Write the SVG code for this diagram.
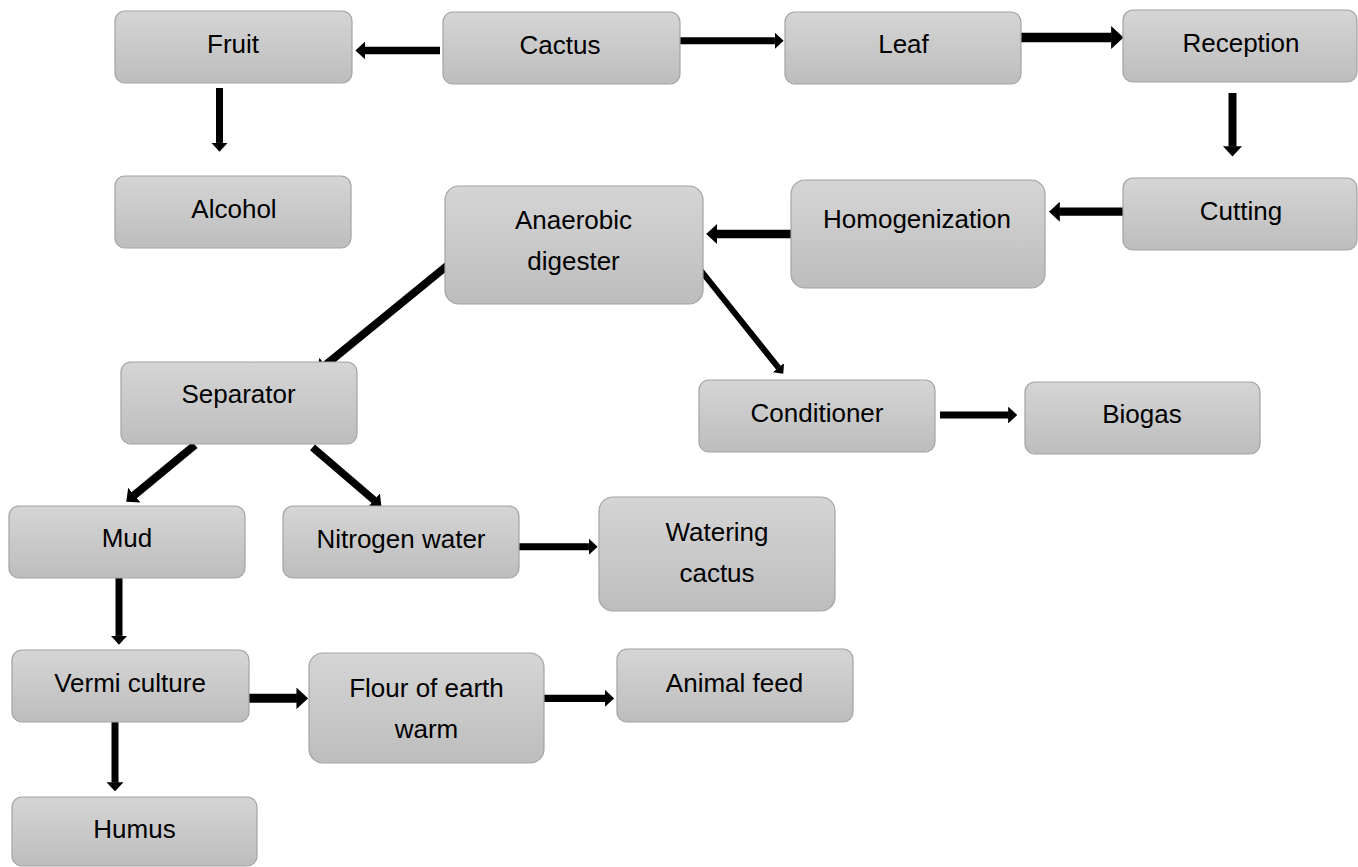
<svg xmlns="http://www.w3.org/2000/svg" width="1358" height="867" viewBox="0 0 1358 867">
<defs>
<linearGradient id="g" x1="0" y1="0" x2="0" y2="1">
<stop offset="0" stop-color="#d5d5d5"/>
<stop offset="1" stop-color="#bdbdbd"/>
</linearGradient>
<marker id="ah" viewBox="0 0 13 24" markerWidth="1.3" markerHeight="2.4" refX="0.5" refY="12" orient="auto" markerUnits="strokeWidth">
<path d="M0,0 L13,12 L0,24 Z" fill="#000"/>
</marker>
<style>
.box{fill:url(#g);stroke:#a3a3a3;stroke-width:1.2}
.t{font-family:"Liberation Sans",Arial,sans-serif;font-size:26px;fill:#000;text-anchor:middle}
.c{stroke:#000;fill:none;marker-end:url(#ah)}
</style>
</defs>
<rect width="1358" height="867" fill="#fff"/>
<g id="connectors">
<line class="c" x1="440" y1="50.5" x2="364.8" y2="50.5" stroke-width="7.5"/>
<line class="c" x1="680" y1="40.7" x2="774.9" y2="40.7" stroke-width="7"/>
<line class="c" x1="1017" y1="37.5" x2="1111.6" y2="37.5" stroke-width="9.5"/>
<line class="c" x1="1232.5" y1="93" x2="1232.5" y2="146.6" stroke-width="8"/>
<line class="c" x1="219.5" y1="88" x2="219.5" y2="142.9" stroke-width="7"/>
<line class="c" x1="1125" y1="211.7" x2="1059.4" y2="211.7" stroke-width="8.3"/>
<line class="c" x1="800" y1="234" x2="716.6" y2="234" stroke-width="8.3"/>
<line class="c" x1="448" y1="265" x2="325.1" y2="365.4" stroke-width="8"/>
<line class="c" x1="698" y1="267" x2="778.6" y2="367.9" stroke-width="6"/>
<line class="c" x1="940" y1="415" x2="1008.5" y2="415" stroke-width="7"/>
<line class="c" x1="195" y1="445" x2="134" y2="495.4" stroke-width="8"/>
<line class="c" x1="312.5" y1="447.3" x2="374.3" y2="500.4" stroke-width="7.5"/>
<line class="c" x1="508" y1="546.7" x2="588.9" y2="546.7" stroke-width="7"/>
<line class="c" x1="119" y1="575" x2="119" y2="635.9" stroke-width="7"/>
<line class="c" x1="115" y1="716.7" x2="115" y2="782.6" stroke-width="7"/>
<line class="c" x1="244" y1="698.3" x2="296.9" y2="698.3" stroke-width="9"/>
<line class="c" x1="541.5" y1="698.3" x2="605" y2="698.3" stroke-width="7.3"/>
</g>
<g id="fruit"><rect class="box" x="115" y="11" width="237" height="72" rx="10"/><text class="t" x="233" y="53">Fruit</text></g>
<g id="cactus"><rect class="box" x="443" y="12" width="237" height="72" rx="10"/><text class="t" x="560" y="54">Cactus</text></g>
<g id="leaf"><rect class="box" x="785" y="12" width="236" height="72" rx="10"/><text class="t" x="903.5" y="53">Leaf</text></g>
<g id="reception"><rect class="box" x="1123" y="10" width="234" height="72" rx="10"/><text class="t" x="1241" y="52">Reception</text></g>
<g id="alcohol"><rect class="box" x="115" y="176" width="236" height="72" rx="10"/><text class="t" x="234" y="218">Alcohol</text></g>
<g id="anaerobic"><rect class="box" x="445" y="186" width="258" height="118" rx="14"/><text class="t" x="573.5" y="229">Anaerobic</text><text class="t" x="573.5" y="270">digester</text></g>
<g id="homogenization"><rect class="box" x="791" y="180" width="254" height="108" rx="14"/><text class="t" x="917" y="228">Homogenization</text></g>
<g id="cutting"><rect class="box" x="1123" y="178" width="234" height="72" rx="10"/><text class="t" x="1241" y="220">Cutting</text></g>
<g id="separator"><rect class="box" x="121" y="362" width="236" height="82" rx="10"/><text class="t" x="238.5" y="403">Separator</text></g>
<g id="conditioner"><rect class="box" x="699" y="380" width="236" height="72" rx="10"/><text class="t" x="817" y="422">Conditioner</text></g>
<g id="biogas"><rect class="box" x="1025" y="382" width="235" height="72" rx="10"/><text class="t" x="1142" y="423">Biogas</text></g>
<g id="mud"><rect class="box" x="9" y="506" width="236" height="72" rx="10"/><text class="t" x="127" y="547">Mud</text></g>
<g id="nitrogen-water"><rect class="box" x="283" y="506" width="236" height="72" rx="10"/><text class="t" x="401" y="548">Nitrogen water</text></g>
<g id="watering-cactus"><rect class="box" x="599" y="497" width="236" height="114" rx="14"/><text class="t" x="717" y="541">Watering</text><text class="t" x="717" y="582">cactus</text></g>
<g id="vermi-culture"><rect class="box" x="12" y="650" width="237" height="72" rx="10"/><text class="t" x="130" y="692">Vermi culture</text></g>
<g id="flour"><rect class="box" x="309" y="653" width="235" height="110" rx="14"/><text class="t" x="426.5" y="697">Flour of earth</text><text class="t" x="426.5" y="738">warm</text></g>
<g id="animal-feed"><rect class="box" x="617" y="649" width="236" height="73" rx="10"/><text class="t" x="734.5" y="692">Animal feed</text></g>
<g id="humus"><rect class="box" x="12" y="797" width="245" height="69" rx="10"/><text class="t" x="134.5" y="838">Humus</text></g>
</svg>
